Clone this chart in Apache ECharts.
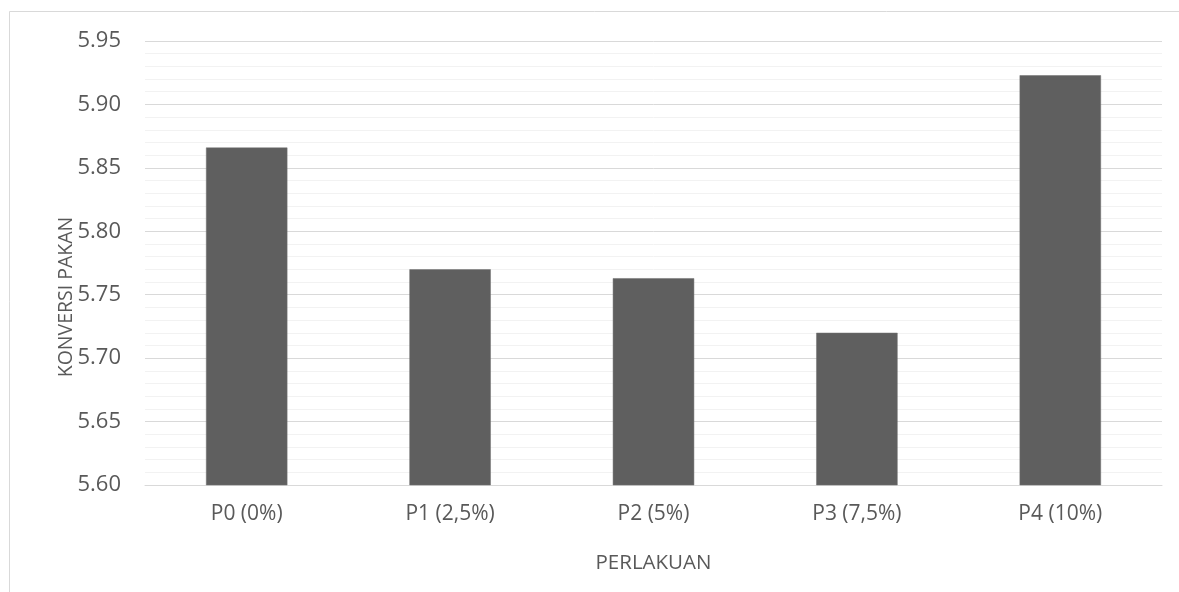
<!DOCTYPE html>
<html>
<head>
<meta charset="utf-8">
<script src="https://cdn.jsdelivr.net/npm/echarts@6/dist/echarts.min.js"></script>
<style>
html, body { margin: 0; padding: 0; background: #fff; }
#main { width: 1179px; height: 592px; }
</style>
</head>
<body>
<div id="main"></div>
<script>
// data
var categories = ['P0 (0%)', 'P1 (2,5%)', 'P2 (5%)', 'P3 (7,5%)', 'P4 (10%)'];
var konversi = [5.866, 5.770, 5.763, 5.720, 5.923];
var yMin = 5.60, yMax = 5.95, yStep = 0.05;

var font = '"Open Sans", sans-serif';
var myChart = echarts.init(document.getElementById('main'));
var option = {
    backgroundColor: '#fff',
    animation: false,
    grid: { left: 145, right: 17, top: 41, bottom: 107 },
    graphic: [
        { type: 'line', shape: { x1: 9.5, y1: 11.5, x2: 1179, y2: 11.5 }, style: { stroke: '#d9d9d9', lineWidth: 1 } },
        { type: 'line', shape: { x1: 9.5, y1: 11.5, x2: 9.5, y2: 592 }, style: { stroke: '#d9d9d9', lineWidth: 1 } },
        {
            type: 'text', x: 66, y: 297, rotation: Math.PI / 2,
            style: { text: 'KONVERSI PAKAN', fill: '#595959', font: '19.5px ' + font, align: 'center', verticalAlign: 'middle' }
        }
    ],
    xAxis: {
        type: 'category',
        data: categories,
        name: 'PERLAKUAN',
        nameLocation: 'middle',
        nameGap: 68,
        nameTextStyle: { color: '#595959', fontSize: 20.5, fontFamily: font },
        axisLine: { lineStyle: { color: '#d9d9d9', width: 1 } },
        axisTick: { show: false },
        axisLabel: { color: '#595959', fontSize: 21, fontFamily: font, margin: 19 }
    },
    yAxis: {
        type: 'value',
        min: yMin,
        max: yMax,
        interval: yStep,
        axisLine: { show: false },
        axisTick: { show: false },
        axisLabel: {
            color: '#595959', fontSize: 22, fontFamily: font, margin: 24,
            formatter: function (v) { return v.toFixed(2); }
        },
        splitLine: { lineStyle: { color: '#d9d9d9', width: 1 } },
        minorTick: { show: false, splitNumber: 5 },
        minorSplitLine: { show: true, lineStyle: { color: '#f2f2f2', width: 1 } }
    },
    series: [{
        type: 'bar',
        data: konversi,
        barWidth: '40%',
        itemStyle: { color: '#5f5f5f', borderColor: '#707070', borderWidth: 0.5 }
    }]
};
myChart.setOption(option);
</script>
</body>
</html>
